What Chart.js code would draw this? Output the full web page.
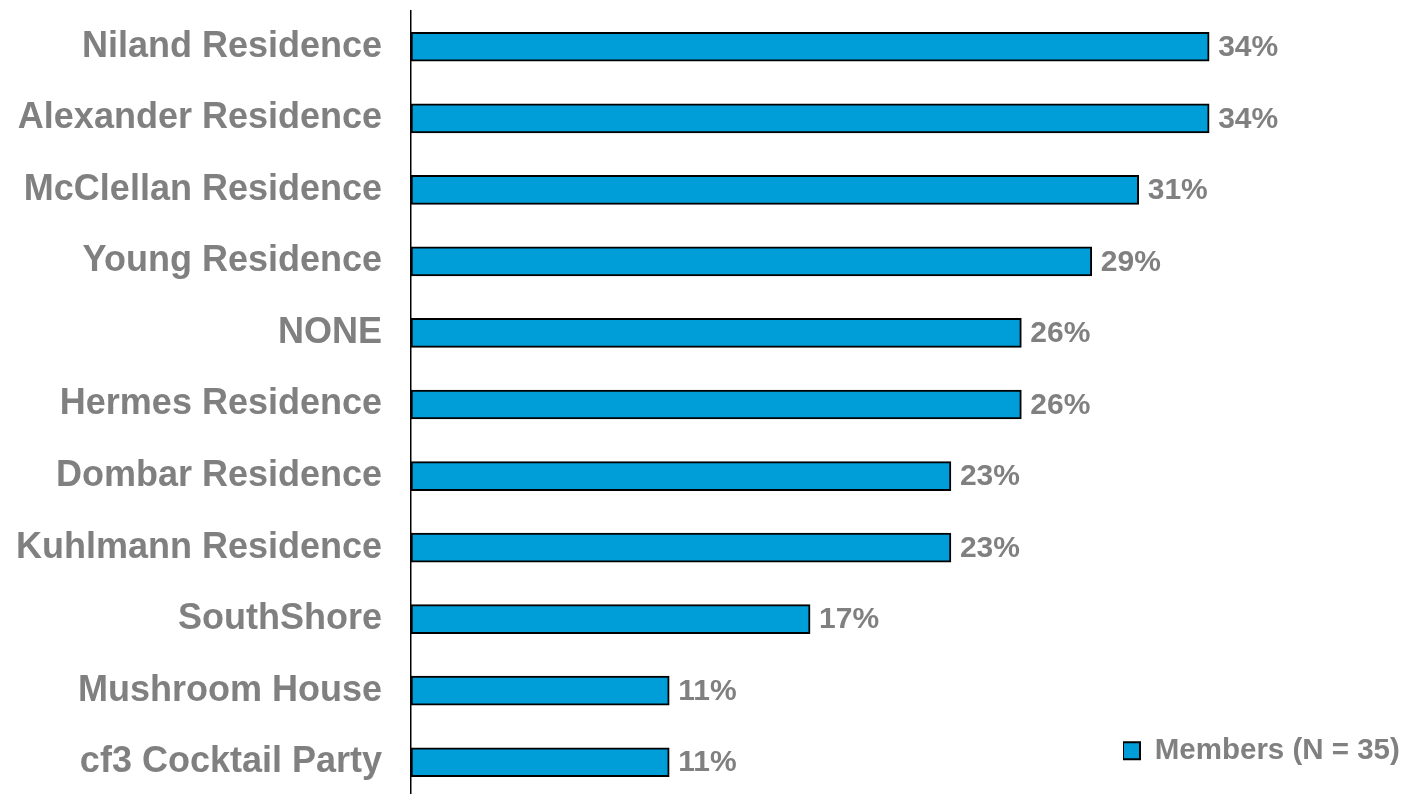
<!DOCTYPE html>
<html>
<head>
<meta charset="utf-8">
<title>Members</title>
<script src="https://cdn.jsdelivr.net/npm/chart.js@4.4.1/dist/chart.umd.min.js"></script>
<style>
  html, body { margin: 0; padding: 0; background: #fff; overflow: hidden; }
  #wrap { position: relative; width: 1402px; height: 800px; }
</style>
</head>
<body>
<div id="wrap"><canvas id="chart"></canvas></div>
<script>
// Data
const categories = ['Niland Residence', 'Alexander Residence', 'McClellan Residence', 'Young Residence', 'NONE',
    'Hermes Residence', 'Dombar Residence', 'Kuhlmann Residence', 'SouthShore', 'Mushroom House', 'cf3 Cocktail Party'];
const members = [34, 34, 31, 29, 26, 26, 23, 23, 17, 11, 11];
const seriesName = 'Members (N = 35)';

const grey = '#808080';
const blue = '#009ED9';
const fontFamily = '"Liberation Sans", Arial, sans-serif';

// value labels at the end of each bar
const valueLabels = {
    id: 'valueLabels',
    afterDatasetsDraw(chart) {
        const ctx = chart.ctx;
        const meta = chart.getDatasetMeta(0);
        ctx.save();
        ctx.font = 'bold 30px ' + fontFamily;
        ctx.fillStyle = grey;
        ctx.textAlign = 'left';
        ctx.textBaseline = 'middle';
        meta.data.forEach((bar, i) => {
            ctx.fillText(members[i] + '%', bar.x + 9, bar.y + 1);
        });
        ctx.restore();
    }
};

// move the legend to the bottom right corner
const legendSpot = {
    id: 'legendSpot',
    afterLayout(chart) {
        const lg = chart.legend;
        if (!lg) return;
        const w = lg.width, h = lg.height;
        lg.left = 1123;
        lg.right = lg.left + w;
        lg.top = 736;
        lg.bottom = lg.top + h;
    }
};

const ctx = document.getElementById('chart').getContext('2d');
new Chart(ctx, {
    type: 'bar',
    data: {
        labels: categories,
        datasets: [{
            label: seriesName,
            data: members,
            backgroundColor: blue,
            borderColor: '#000',
            borderWidth: 2,
            borderSkipped: false,
            barThickness: 29
        }]
    },
    options: {
        indexAxis: 'y',
        responsive: true,
        maintainAspectRatio: false,
        animation: false,
        layout: { padding: { left: 0, right: 52, top: 11, bottom: 2 } },
        scales: {
            x: {
                display: false,
                min: 0,
                max: 40
            },
            y: {
                grid: { display: false, drawTicks: false },
                border: { display: true, color: '#000', width: 1.5 },
                ticks: {
                    color: grey,
                    padding: 29,
                    font: { family: fontFamily, size: 36, weight: 'bold' }
                },
                afterFit(scale) {
                    scale.width = 411;
                    scale.paddingTop = 0;
                    scale.paddingBottom = 0;
                }
            }
        },
        plugins: {
            legend: {
                position: 'chartArea',
                align: 'start',
                labels: {
                    color: grey,
                    boxWidth: 17,
                    boxHeight: 17,
                    padding: 0,
                    font: { family: fontFamily, size: 29.5, weight: 'bold' }
                }
            },
            tooltip: { enabled: false }
        }
    },
    plugins: [valueLabels, legendSpot]
});
</script>
</body>
</html>
